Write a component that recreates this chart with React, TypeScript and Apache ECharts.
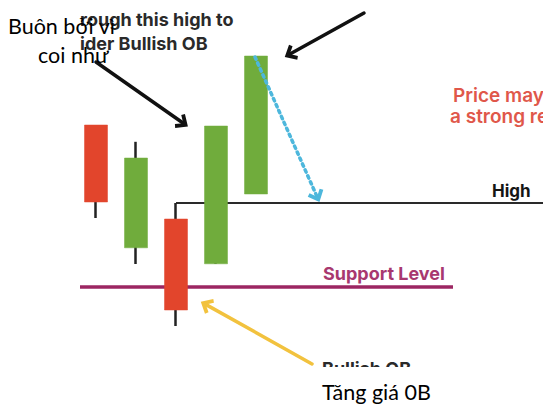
import React, { useEffect, useRef } from "react";
import * as echarts from "echarts";

// Candle positions (x index) and prices (chart units)
const candleX = [0, 1, 2, 3, 4];
const opens = [70, 39.3, 46.5, 35.3, 52.75];
const closes = [50.75, 61.75, 23.75, 69.75, 87.25];
const lows = [46.75, 35.25, 19.75, 35.3, 52.75];
const highs = [70, 65.8, 50.5, 69.75, 87.25];

// Horizontal levels
const highLevel = 50.5;
const highFromX = 2;
const highToX = 12;
const supportLevel = 29.5;
const supportFromX = -0.4;
const supportToX = 8.925;

// Arrows: [x1, y1, x2, y2]
const arrowBlack1 = [0, 85.75, 2.175, 70.5];
const arrowBlack2 = [6.7, 98, 4.85, 87.75];
const arrowBlue = [3.975, 87, 5.525, 52.1];
const arrowYellow = [5.4, 10.25, 2.75, 25.1];

const CHEVRON = "path://M0,10 L10,0 L20,10 L16.5,12.5 L10,6 L3.5,12.5 Z";

export default function App() {
  const ref = useRef<HTMLDivElement>(null);
  useEffect(() => {
    if (!ref.current) return;
    const chart = echarts.init(ref.current, null, { renderer: "svg" });

    const wickData = candleX.map((x, i) => [x, opens[i], closes[i], lows[i], highs[i]]);
    const bodyData = candleX.map((x, i) => [
      x,
      opens[i],
      closes[i],
      Math.min(opens[i], closes[i]),
      Math.max(opens[i], closes[i]),
    ]);

    const arrow = (a: number[], color: string, type: any) => [
      { coord: [a[0], a[1]], symbol: "none", lineStyle: { color, width: 3.5, type, cap: "round" } },
      { coord: [a[2], a[3]], symbol: CHEVRON, symbolSize: [17, 12] },
    ];

    const boldFont = "700 18px Inter, 'Noto Sans', sans-serif";
    const overlayFont = "21.5px Lato, 'Liberation Sans', sans-serif";

    chart.setOption({
      animation: false,
      backgroundColor: "#ffffff",
      grid: { left: 0, right: 0, top: 5, bottom: 0 },
      xAxis: { type: "value", min: -2.4, max: 11.175, show: false, splitLine: { show: false } },
      yAxis: { type: "value", min: 0, max: 100, show: false, splitLine: { show: false } },
      series: [
        {
          type: "line",
          data: [
            [supportFromX, supportLevel],
            [supportToX, supportLevel],
          ],
          symbol: "none",
          lineStyle: { color: "#9c2662", width: 3.5 },
          z: 1,
        },
        {
          type: "line",
          data: [
            [highFromX, highLevel],
            [highToX, highLevel],
          ],
          symbol: "none",
          lineStyle: { color: "#2a2a2a", width: 1.8 },
          z: 1,
        },
        {
          type: "candlestick",
          data: wickData,
          barWidth: 1,
          itemStyle: {
            color: "#222",
            color0: "#222",
            borderColor: "#222",
            borderColor0: "#222",
            borderWidth: 2.5,
          },
          z: 2,
        },
        {
          type: "candlestick",
          data: bodyData,
          barWidth: 23,
          itemStyle: {
            color: "#70ac3c",
            color0: "#e2452c",
            borderColor: "#70ac3c",
            borderColor0: "#e2452c",
            borderWidth: 0.5,
          },
          z: 3,
        },
        {
          type: "line",
          data: [],
          z: 4,
          markLine: {
            silent: true,
            animation: false,
            label: { show: false },
            data: [
              arrow(arrowBlack1, "#111111", "solid"),
              arrow(arrowBlack2, "#111111", "solid"),
              arrow(arrowBlue, "#4db7dc", [2.5, 4]),
              arrow(arrowYellow, "#f2c23e", "solid"),
            ],
          },
        },
      ],
      graphic: [
        { type: "text", x: 80, y: 19, z: 10, style: { text: "rough this high to", font: boldFont, fill: "#2a2a2a", verticalAlign: "middle" } },
        { type: "text", x: 80, y: 43, z: 10, style: { text: "ider Bullish OB", font: boldFont, fill: "#2a2a2a", verticalAlign: "middle" } },
        { type: "text", x: 323, y: 273, z: 10, style: { text: "Support Level", font: boldFont, fill: "#a8386f", verticalAlign: "middle" } },
        { type: "text", x: 492, y: 191, z: 10, style: { text: "High", font: "700 17px Inter, 'Noto Sans', sans-serif", fill: "#151515", verticalAlign: "middle" } },
        { type: "text", x: 453, y: 95, z: 10, style: { text: "Price may", font: "600 19px Inter, 'Noto Sans', sans-serif", fill: "#e0574a", verticalAlign: "middle" } },
        { type: "text", x: 450, y: 116, z: 10, style: { text: "a strong re", font: "600 19px Inter, 'Noto Sans', sans-serif", fill: "#e0574a", verticalAlign: "middle" } },
        { type: "text", x: 322, y: 368, z: 10, style: { text: "Bullish OB", font: boldFont, fill: "#2a2a2a", verticalAlign: "middle" } },
        { type: "rect", z: 20, shape: { x: 290, y: 367, width: 200, height: 40 }, style: { fill: "#ffffff" } },
        { type: "text", x: 8, y: 26, z: 30, style: { text: "Buôn bởi vì", font: overlayFont, fill: "#000", verticalAlign: "middle" } },
        { type: "text", x: 38, y: 55, z: 30, style: { text: "coi như", font: overlayFont, fill: "#000", verticalAlign: "middle" } },
        { type: "text", x: 322, y: 392, z: 30, style: { text: "Tăng giá 0B", font: overlayFont, fill: "#000", verticalAlign: "middle" } },
      ],
    });
    return () => chart.dispose();
  }, []);
  return (
    <div
      ref={ref}
      style={{ position: "fixed", left: 0, top: 0, width: 543, height: 405, background: "#fff" }}
    />
  );
}
